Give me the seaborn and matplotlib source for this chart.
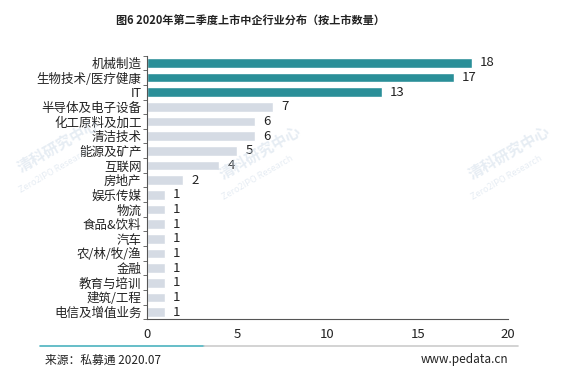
import pandas as pd
import seaborn as sns
import matplotlib.pyplot as plt
from matplotlib.ticker import FixedLocator

industries = ['机械制造', '生物技术/医疗健康', 'IT', '半导体及电子设备', '化工原料及加工',
              '清洁技术', '能源及矿产', '互联网', '房地产', '娱乐传媒', '物流', '食品&饮料',
              '汽车', '农/林/牧/渔', '金融', '教育与培训', '建筑/工程', '电信及增值业务']
counts = [18, 17, 13, 7, 6, 6, 5, 4, 2, 1, 1, 1, 1, 1, 1, 1, 1, 1]
x_ticks = [0, 5, 10, 15, 20]

sns.set_style('white')
plt.rcParams['font.family'] = ['Noto Sans CJK SC', 'DejaVu Sans']

df = pd.DataFrame({'industry': industries, 'count': counts})
teal = '#2a8f98'
grey = '#d5dbe4'
palette = {ind: (teal if i < 3 else grey) for i, ind in enumerate(industries)}

fig = plt.figure(figsize=(5.79, 3.83), dpi=100)
ax = fig.add_axes([0.254, 0.166, 0.623, 0.689])

# faint watermarks (behind everything)
for (wx, wy) in [(0.1, 0.62), (0.45, 0.6), (0.88, 0.6)]:
    fig.text(wx, wy, '清科研究中心', rotation=30, fontsize=11, fontweight='bold',
             color='#c9d7e6', alpha=0.45, ha='center', va='center', zorder=0)
    fig.text(wx - 0.005, wy - 0.065, 'Zero2IPO Research', rotation=30, fontsize=6.5,
             color='#c9d7e6', alpha=0.45, ha='center', va='center', zorder=0)

sns.barplot(data=df, x='count', y='industry', hue='industry', palette=palette,
            legend=False, width=0.65, saturation=1, ax=ax)
ax.patch.set_alpha(0)

for i, v in enumerate(counts):
    ax.text(v + 0.45, i, str(v), va='center', ha='left', fontsize=9.5, color='#222222')

ax.set_xlim(0, 20)
ax.set_ylim(len(industries) - 0.5, -0.5)
ax.set_xticks(x_ticks)
ax.set_xlabel('')
ax.set_ylabel('')
ax.tick_params(axis='x', labelsize=9.5, length=3, color='#555555', labelcolor='#222222', pad=3)
ax.tick_params(axis='y', which='major', length=0, labelsize=9, labelcolor='#222222', pad=4)
ax.yaxis.set_minor_locator(FixedLocator([i - 0.5 for i in range(len(industries) + 1)]))
ax.tick_params(axis='y', which='minor', length=3, color='#555555', left=True)
for s in ['top', 'right']:
    ax.spines[s].set_visible(False)
for s in ['left', 'bottom']:
    ax.spines[s].set_color('#555555')
    ax.spines[s].set_linewidth(0.8)

fig.text(0.432, 0.943, '图6 2020年第二季度上市中企行业分布（按上市数量）', ha='center', va='center',
         fontsize=8, fontweight='bold', color='#222222')

# bottom separator line
fig.add_artist(plt.Line2D([40 / 579, 204 / 579], [1 - 346 / 383] * 2, color='#4bb3bf', lw=1.2))
fig.add_artist(plt.Line2D([204 / 579, 518 / 579], [1 - 346 / 383] * 2, color='#cccccc', lw=1.2))

fig.text(45 / 579, 1 - 360 / 383, '来源：私募通 2020.07', ha='left', va='center', fontsize=8.5, color='#222222')
fig.text(508 / 579, 1 - 360 / 383, 'www.pedata.cn', ha='right', va='center', fontsize=8.5, color='#222222')

fig.savefig('out.png', dpi=100)
